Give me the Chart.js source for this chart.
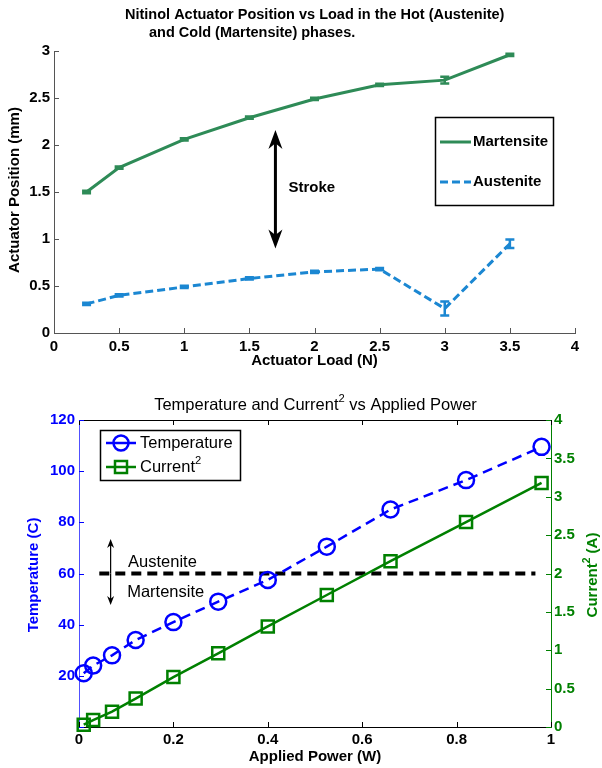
<!DOCTYPE html>
<html>
<head>
<meta charset="utf-8">
<script src="https://cdn.jsdelivr.net/npm/chart.js@4"></script>
<style>
  body { margin: 0; background: #fff; }
  #top { position: absolute; left: 0; top: 0; }
  #bottom { position: absolute; left: 0; top: 380px; }
</style>
</head>
<body>
<canvas id="top" width="602" height="380"></canvas>
<canvas id="bottom" width="602" height="388"></canvas>
<script>
// ---- data: actuator position vs load ----
const loads = [0.25, 0.5, 1, 1.5, 2, 2.5, 3, 3.5];
const martensite = [1.50, 1.76, 2.06, 2.29, 2.49, 2.64, 2.69, 2.96];
const martensiteErr = [0.012, 0.012, 0.012, 0.012, 0.012, 0.012, 0.035, 0.012];
const austenite = [0.31, 0.40, 0.49, 0.58, 0.65, 0.68, 0.26, 0.95];
const austeniteErr = [0.012, 0.012, 0.012, 0.012, 0.012, 0.012, 0.075, 0.045];

// ---- data: temperature / current^2 vs applied power ----
const power = [0.01, 0.03, 0.07, 0.12, 0.2, 0.295, 0.4, 0.525, 0.66, 0.82, 0.98];
const temperature = [21, 24, 28, 34, 41, 49, 57.5, 70.5, 85, 96.5, 109.5];
const currentSq = [0.03, 0.09, 0.2, 0.37, 0.65, 0.96, 1.31, 1.72, 2.16, 2.67, 3.18];
const phaseLimitX = [0.043, 0.967];
const phaseLimitT = [60, 60];

const FONT = '"Liberation Sans", Arial, sans-serif';
const MART = '#2e8b57';
const AUST = '#1b87d2';
const BLUE = '#0000ff';
const GREEN = '#008000';

function tickFont(size) { return { family: FONT, size: size || 15, weight: 'bold' }; }
// matlab style tick text: 3 not 3.0
const plainNum = v => String(Math.round(v * 100) / 100);

function arrowHead(ctx, x, y, dir, len, w) {
  // dir = -1 points up, 1 points down
  ctx.beginPath();
  ctx.moveTo(x, y);
  ctx.lineTo(x - w / 2, y - dir * len);
  ctx.lineTo(x, y - dir * len * 0.7);
  ctx.lineTo(x + w / 2, y - dir * len);
  ctx.closePath();
  ctx.fill();
}

function errorBars(ctx, xs, ys, xv, yv, err, color) {
  ctx.save();
  ctx.strokeStyle = color;
  ctx.lineWidth = 2.5;
  xv.forEach((v, i) => {
    const px = xs.getPixelForValue(v);
    const lo = ys.getPixelForValue(yv[i] - err[i]);
    const hi = ys.getPixelForValue(yv[i] + err[i]);
    ctx.beginPath();
    ctx.moveTo(px, lo); ctx.lineTo(px, hi);
    ctx.moveTo(px - 4.5, lo); ctx.lineTo(px + 4.5, lo);
    ctx.moveTo(px - 4.5, hi); ctx.lineTo(px + 4.5, hi);
    ctx.stroke();
  });
  ctx.restore();
}

function inwardTicks(ctx, scale, side, pos, color, len) {
  ctx.save();
  ctx.strokeStyle = color;
  ctx.lineWidth = 1;
  scale.ticks.forEach(t => {
    const p = Math.round(scale.getPixelForValue(t.value)) + 0.5;
    ctx.beginPath();
    if (side === 'bottom') { ctx.moveTo(p, pos); ctx.lineTo(p, pos - len); }
    if (side === 'top') { ctx.moveTo(p, pos); ctx.lineTo(p, pos + len); }
    if (side === 'left') { ctx.moveTo(pos, p); ctx.lineTo(pos + len, p); }
    if (side === 'right') { ctx.moveTo(pos, p); ctx.lineTo(pos - len, p); }
    ctx.stroke();
  });
  ctx.restore();
}

// "Current" with a superscript 2, then a tail; returns total width
function currentText(ctx, x, y, size, weight, tail, center) {
  const big = weight + ' ' + size + 'px ' + FONT;
  const small = weight + ' ' + (size * 0.68) + 'px ' + FONT;
  ctx.font = big; const w1 = ctx.measureText('Current').width;
  const w3 = ctx.measureText(tail).width;
  ctx.font = small; const w2 = ctx.measureText('2').width;
  const sx = center ? x - (w1 + w2 + w3) / 2 : x;
  ctx.textAlign = 'left';
  ctx.textBaseline = 'middle';
  ctx.font = big; ctx.fillText('Current', sx, y);
  ctx.font = small; ctx.fillText('2', sx + w1, y - size * 0.38);
  ctx.font = big; ctx.fillText(tail, sx + w1 + w2, y);
  return w1 + w2 + w3;
}

const loadExtras = {
  id: 'loadExtras',
  afterDatasetsDraw(chart) {
    const { ctx, scales: { x, y } } = chart;
    errorBars(ctx, x, y, loads, martensite, martensiteErr, MART);
    errorBars(ctx, x, y, loads, austenite, austeniteErr, AUST);
  },
  afterDraw(chart) {
    const { ctx, chartArea: a, scales: { x, y } } = chart;
    inwardTicks(ctx, x, 'bottom', a.bottom, '#555', 5);
    inwardTicks(ctx, y, 'left', a.left, '#555', 5);

    ctx.save();
    ctx.fillStyle = '#000';
    ctx.textBaseline = 'middle';
    ctx.textAlign = 'left';
    ctx.font = 'bold 14.5px ' + FONT;
    ctx.fillText('Nitinol Actuator Position vs Load in the Hot (Austenite)', 125, 15);
    ctx.fillText('and Cold (Martensite) phases.', 149, 33);

    ctx.font = 'bold 15px ' + FONT;
    ctx.textAlign = 'center';
    ctx.fillText('Actuator Load (N)', (a.left + a.right) / 2, 361);
    ctx.save();
    ctx.translate(15, 190);
    ctx.rotate(-Math.PI / 2);
    ctx.fillText('Actuator Position (mm)', 0, 0);
    ctx.restore();

    // stroke arrow
    const ax = x.getPixelForValue(1.7);
    const top = y.getPixelForValue(2.16);
    const bot = y.getPixelForValue(0.90);
    ctx.strokeStyle = '#000';
    ctx.lineWidth = 3;
    ctx.beginPath();
    ctx.moveTo(ax, top + 12); ctx.lineTo(ax, bot - 12);
    ctx.stroke();
    arrowHead(ctx, ax, top, -1, 19, 14);
    arrowHead(ctx, ax, bot, 1, 19, 14);
    ctx.textAlign = 'left';
    ctx.fillText('Stroke', x.getPixelForValue(1.8), y.getPixelForValue(1.54));

    // legend
    ctx.lineWidth = 1.5;
    ctx.strokeRect(435.5, 117.5, 118, 88);
    ctx.lineWidth = 3;
    ctx.strokeStyle = MART;
    ctx.beginPath(); ctx.moveTo(440, 142); ctx.lineTo(471, 142); ctx.stroke();
    ctx.strokeStyle = AUST;
    ctx.setLineDash([8, 4]);
    ctx.beginPath(); ctx.moveTo(440, 182); ctx.lineTo(471, 182); ctx.stroke();
    ctx.setLineDash([]);
    ctx.fillText('Martensite', 473, 142);
    ctx.fillText('Austenite', 473, 182);
    ctx.restore();
  }
};

new Chart(document.getElementById('top'), {
  type: 'line',
  data: {
    datasets: [
      {
        label: 'Martensite',
        data: loads.map((l, i) => ({ x: l, y: martensite[i] })),
        borderColor: MART, borderWidth: 3, pointRadius: 0, tension: 0
      },
      {
        label: 'Austenite',
        data: loads.map((l, i) => ({ x: l, y: austenite[i] })),
        borderColor: AUST, borderWidth: 3, borderDash: [8, 4], pointRadius: 0, tension: 0
      }
    ]
  },
  options: {
    responsive: false,
    animation: false,
    layout: { padding: { top: 51, right: 27, left: 0, bottom: 0 } },
    plugins: { legend: { display: false }, title: { display: false }, tooltip: { enabled: false } },
    scales: {
      x: {
        type: 'linear', min: 0, max: 4,
        ticks: { stepSize: 0.5, padding: 5, color: '#000', font: tickFont(), maxRotation: 0, autoSkip: false, callback: plainNum },
        grid: { drawOnChartArea: false, drawTicks: false },
        border: { color: '#555', width: 1 },
        afterFit(s) { s.height = 47; }
      },
      y: {
        min: 0, max: 3,
        ticks: { stepSize: 0.5, padding: 4, color: '#000', font: tickFont(), callback: plainNum },
        grid: { drawOnChartArea: false, drawTicks: false },
        border: { color: '#555', width: 1 },
        afterFit(s) { s.width = 54; }
      }
    }
  },
  plugins: [loadExtras]
});

const powerExtras = {
  id: 'powerExtras',
  afterDraw(chart) {
    const { ctx, chartArea: a, scales: { x, yT, yC } } = chart;
    ctx.save();
    ctx.strokeStyle = '#000';
    ctx.lineWidth = 1;
    ctx.beginPath(); ctx.moveTo(a.left, a.top + 0.5); ctx.lineTo(a.right, a.top + 0.5); ctx.stroke();
    inwardTicks(ctx, x, 'bottom', a.bottom, '#000', 5);
    inwardTicks(ctx, x, 'top', a.top, '#000', 5);
    inwardTicks(ctx, yT, 'left', a.left, BLUE, 5);
    inwardTicks(ctx, yC, 'right', a.right, GREEN, 5);

    // title with superscript, centred
    ctx.fillStyle = '#000';
    ctx.textBaseline = 'middle';
    ctx.textAlign = 'left';
    ctx.font = '16.5px ' + FONT;
    const pre = 'Temperature and ';
    const wPre = ctx.measureText(pre).width;
    const tail = ' vs Applied Power';
    ctx.font = '16.5px ' + FONT; const wC = ctx.measureText('Current' + tail).width;
    ctx.font = (16.5 * 0.68) + 'px ' + FONT; const w2 = ctx.measureText('2').width;
    const start = 315.5 - (wPre + wC + w2) / 2;
    ctx.font = '16.5px ' + FONT;
    ctx.fillText(pre, start, 25);
    currentText(ctx, start + wPre, 25, 16.5, 'normal', tail, false);

    ctx.textAlign = 'center';
    ctx.font = 'bold 15px ' + FONT;
    ctx.fillText('Applied Power (W)', (a.left + a.right) / 2, 377);

    ctx.fillStyle = BLUE;
    ctx.save();
    ctx.translate(34, 195);
    ctx.rotate(-Math.PI / 2);
    ctx.fillText('Temperature (C)', 0, 0);
    ctx.restore();

    ctx.fillStyle = GREEN;
    ctx.save();
    ctx.translate(593, 195);
    ctx.rotate(-Math.PI / 2);
    currentText(ctx, 0, 0, 15, 'bold', ' (A)', true);
    ctx.restore();

    // phase arrows and labels
    const ax = x.getPixelForValue(0.067);
    const mid = yT.getPixelForValue(60);
    const up = yT.getPixelForValue(73.5);
    const dn = yT.getPixelForValue(47.7);
    ctx.strokeStyle = '#000';
    ctx.fillStyle = '#000';
    ctx.lineWidth = 1.2;
    ctx.beginPath(); ctx.moveTo(ax, mid); ctx.lineTo(ax, up + 6); ctx.stroke();
    ctx.beginPath(); ctx.moveTo(ax, mid); ctx.lineTo(ax, dn - 6); ctx.stroke();
    arrowHead(ctx, ax, up, -1, 9, 7);
    arrowHead(ctx, ax, dn, 1, 9, 7);
    ctx.textAlign = 'left';
    ctx.font = '16.5px ' + FONT;
    ctx.fillText('Austenite', x.getPixelForValue(0.104), yT.getPixelForValue(64.5));
    ctx.fillText('Martensite', x.getPixelForValue(0.102), yT.getPixelForValue(52.4));

    // legend
    ctx.lineWidth = 1.5;
    ctx.strokeRect(100.5, 50.5, 140, 50);
    ctx.strokeStyle = BLUE;
    ctx.lineWidth = 2.5;
    ctx.beginPath(); ctx.moveTo(106, 63); ctx.lineTo(136, 63); ctx.stroke();
    ctx.beginPath(); ctx.arc(121, 63, 7.5, 0, Math.PI * 2); ctx.stroke();
    ctx.strokeStyle = GREEN;
    ctx.beginPath(); ctx.moveTo(106, 87); ctx.lineTo(136, 87); ctx.stroke();
    ctx.strokeRect(115, 81, 12, 12);
    ctx.fillStyle = '#000';
    ctx.fillText('Temperature', 140, 63);
    currentText(ctx, 140, 87, 16.5, 'normal', '', false);
    ctx.restore();
  }
};

new Chart(document.getElementById('bottom'), {
  type: 'line',
  data: {
    datasets: [
      {
        label: 'Temperature',
        data: power.map((p, i) => ({ x: p, y: temperature[i] })),
        yAxisID: 'yT',
        borderColor: BLUE, borderWidth: 2.5, borderDash: [10, 6],
        pointStyle: 'circle', pointRadius: 8, pointBorderWidth: 2.5,
        pointBorderColor: BLUE, pointBackgroundColor: 'rgba(0,0,0,0)',
        tension: 0, clip: false
      },
      {
        label: 'Current²',
        data: power.map((p, i) => ({ x: p, y: currentSq[i] })),
        yAxisID: 'yC',
        borderColor: GREEN, borderWidth: 2.5,
        pointStyle: 'rect', pointRadius: 8.5, pointBorderWidth: 2.5,
        pointBorderColor: GREEN, pointBackgroundColor: 'rgba(0,0,0,0)',
        tension: 0, clip: false
      },
      {
        label: 'Phase limit',
        data: phaseLimitX.map((p, i) => ({ x: p, y: phaseLimitT[i] })),
        yAxisID: 'yT',
        borderColor: '#000', borderWidth: 4, borderDash: [10, 6], pointRadius: 0
      }
    ]
  },
  options: {
    responsive: false,
    animation: false,
    layout: { padding: { top: 40, right: 0, left: 0, bottom: 0 } },
    plugins: { legend: { display: false }, title: { display: false }, tooltip: { enabled: false } },
    scales: {
      x: {
        type: 'linear', min: 0, max: 1,
        ticks: { stepSize: 0.2, padding: 4, color: '#000', font: tickFont(), maxRotation: 0, autoSkip: false, callback: plainNum },
        grid: { drawOnChartArea: false, drawTicks: false },
        border: { color: '#000', width: 1 },
        afterFit(s) { s.height = 41; }
      },
      yT: {
        position: 'left', min: 0, max: 120,
        ticks: { stepSize: 20, padding: 4, color: BLUE, font: tickFont(), callback: v => v === 0 ? '' : plainNum(v) },
        grid: { drawOnChartArea: false, drawTicks: false },
        border: { color: '#5050ff', width: 1 },
        afterFit(s) { s.width = 79; }
      },
      yC: {
        position: 'right', min: 0, max: 4,
        ticks: { stepSize: 0.5, padding: 3, color: GREEN, font: tickFont(), callback: plainNum },
        grid: { drawOnChartArea: false, drawTicks: false },
        border: { color: GREEN, width: 1 },
        afterFit(s) { s.width = 51; }
      }
    }
  },
  plugins: [powerExtras]
});
</script>
</body>
</html>
